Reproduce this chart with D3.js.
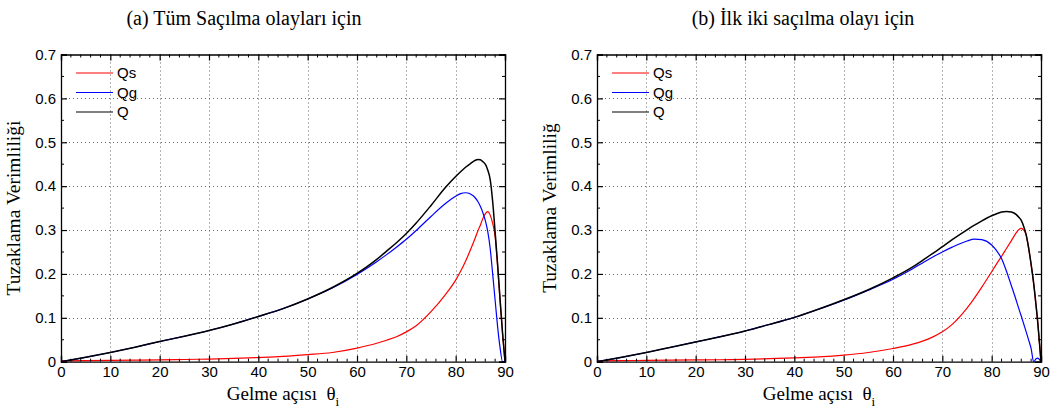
<!DOCTYPE html>
<html><head><meta charset="utf-8">
<script src="https://cdn.jsdelivr.net/npm/d3@7"></script>
<style>body{margin:0;background:#fff}svg{display:block}</style>
</head><body>
<svg id="chart" width="1057" height="414"></svg>
<script>
// ---- data ----
const anglesA = [0,5,10,15,20,25,30,35,40,45,50,55,60,64,66,68,70,72,75,78,80,81,82,83,84,84.5,85,85.5,86,86.5,87,87.5,88,88.5,89,89.5,90];
const qsA = [0.002,0.0025,0.003,0.0035,0.004,0.005,0.006,0.0075,0.0095,0.012,0.016,0.021,0.031,0.042,0.049,0.057,0.068,0.082,0.114,0.154,0.186,0.206,0.229,0.255,0.283,0.298,0.311,0.326,0.337,0.342,0.334,0.315,0.285,0.218,0.140,0.065,0];
const qgA = [0,0.010,0.021,0.033,0.046,0.058,0.071,0.086,0.103,0.121,0.143,0.168,0.199,0.228,0.244,0.261,0.279,0.299,0.331,0.361,0.377,0.383,0.385,0.382,0.373,0.365,0.354,0.340,0.322,0.297,0.258,0.200,0.140,0.080,0.032,0,0];
const qA  = [0,0.010,0.021,0.033,0.046,0.058,0.071,0.086,0.103,0.121,0.143,0.169,0.201,0.233,0.252,0.271,0.292,0.316,0.356,0.398,0.422,0.433,0.443,0.4515,0.459,0.461,0.460,0.456,0.450,0.437,0.415,0.365,0.295,0.222,0.142,0.066,0];

const anglesB = [0,5,10,15,20,25,30,35,40,45,50,55,60,64,66,68,70,72,75,76.5,78,80,81,82,83,84,85,85.5,86,86.5,87,87.5,88,88.5,89,89.3,89.6,90];
const qsB = [0.002,0.0025,0.003,0.0035,0.004,0.0045,0.0055,0.007,0.0085,0.011,0.015,0.021,0.030,0.040,0.047,0.056,0.068,0.085,0.122,0.145,0.170,0.205,0.223,0.240,0.258,0.276,0.294,0.301,0.304,0.300,0.288,0.258,0.221,0.179,0.127,0.094,0.054,0];
const qgB = [0,0.010,0.021,0.033,0.045,0.057,0.070,0.085,0.101,0.120,0.140,0.163,0.188,0.212,0.225,0.238,0.250,0.261,0.275,0.2795,0.278,0.266,0.253,0.235,0.206,0.173,0.139,0.121,0.104,0.086,0.068,0.049,0.030,0,0.0065,0.008,0.006,0];
const qB  = [0,0.010,0.021,0.033,0.045,0.057,0.070,0.085,0.101,0.120,0.141,0.164,0.191,0.216,0.231,0.246,0.262,0.278,0.3005,0.311,0.321,0.3326,0.337,0.341,0.3425,0.341,0.335,0.329,0.322,0.308,0.289,0.259,0.222,0.180,0.128,0.095,0.055,0];

const xTicks = [0,10,20,30,40,50,60,70,80,90];
const yTicks = [0,0.1,0.2,0.3,0.4,0.5,0.6,0.7];
const xMinorStep = 2;
const yMinorStep = 0.05;
const seriesNames = ["Qs","Qg","Q"];
const seriesColors = ["#ff0000","#0000ff","#000000"];
const titles = ["(a) Tüm Saçılma olayları için","(b) İlk iki saçılma olayı için"];
const yLabels = ["Tuzaklama Verimliliği","Tuzaklama Verimliliğ"];
const xLabelMain = "Gelme açısı\u00a0\u00a0θ";
const xLabelSub = "i";

// ---- layout ----
const svg = d3.select("#chart");
const plotTop = 54.5, plotBottom = 361.7;
const panels = [
  {left:61, right:505, angles:anglesA, series:[qsA,qgA,qA], title:titles[0], ylabel:yLabels[0], titleX:244},
  {left:597, right:1041, angles:anglesB, series:[qsB,qgB,qB], title:titles[1], ylabel:yLabels[1], titleX:803}
];
const serif = "'Liberation Serif','Times New Roman',serif";
const sans = "'Liberation Sans',Arial,sans-serif";

panels.forEach(p => {
  const x = d3.scaleLinear().domain([0,90]).range([p.left,p.right]);
  const y = d3.scaleLinear().domain([0,0.7]).range([plotBottom,plotTop]);
  const g = svg.append("g");

  // grid
  const grid = g.append("g").attr("stroke","#666").attr("stroke-width",1).attr("stroke-dasharray","1,3");
  xTicks.slice(1,-1).forEach(t => grid.append("line")
    .attr("x1",Math.round(x(t))+0.5).attr("x2",Math.round(x(t))+0.5).attr("y1",plotTop).attr("y2",plotBottom));
  yTicks.slice(1,-1).forEach(t => grid.append("line")
    .attr("y1",Math.round(y(t))+0.5).attr("y2",Math.round(y(t))+0.5).attr("x1",p.left).attr("x2",p.right));

  // curves
  const line = d3.line().curve(d3.curveMonotoneX);
  p.series.forEach((s,i) => {
    g.append("path")
      .attr("d", line(p.angles.map((a,j) => [x(a), y(s[j])])))
      .attr("fill","none").attr("stroke",seriesColors[i])
      .attr("stroke-width", i===2 ? 1.5 : 1.2);
  });

  // axes with inward ticks
  const xa = d3.axisBottom(x).tickValues(xTicks).tickSize(-6).tickPadding(5).tickFormat(d3.format("d"));
  const ya = d3.axisLeft(y).tickValues(yTicks).tickSize(-6).tickPadding(5)
    .tickFormat(d => d===0 ? "0" : d3.format(".1f")(d));
  const xt = d3.axisTop(x).tickValues(xTicks).tickSize(-6).tickFormat("");
  const yr = d3.axisRight(y).tickValues(yTicks).tickSize(-6).tickFormat("");
  const ax = [
    g.append("g").attr("transform",`translate(0,${plotBottom})`).call(xa),
    g.append("g").attr("transform",`translate(${p.left},0)`).call(ya),
    g.append("g").attr("transform",`translate(0,${plotTop})`).call(xt),
    g.append("g").attr("transform",`translate(${p.right},0)`).call(yr)
  ];
  ax.forEach(a => {
    a.select(".domain").attr("stroke","#000").attr("stroke-width",1.3);
    a.selectAll(".tick line").attr("stroke","#000").attr("stroke-width",1.2);
    a.selectAll("text").attr("font-family",sans).attr("font-size",15).attr("fill","#000");
  });

  // minor ticks
  const minor = g.append("g").attr("stroke","#000").attr("stroke-width",1);
  d3.range(0,90.001,xMinorStep).filter(v => Math.round(v)%10!==0).forEach(v => {
    minor.append("line").attr("x1",x(v)).attr("x2",x(v)).attr("y1",plotBottom).attr("y2",plotBottom-3);
    minor.append("line").attr("x1",x(v)).attr("x2",x(v)).attr("y1",plotTop).attr("y2",plotTop+3);
  });
  d3.range(0,0.7001,yMinorStep).filter((v,i) => i%2===1).forEach(v => {
    minor.append("line").attr("y1",y(v)).attr("y2",y(v)).attr("x1",p.left).attr("x2",p.left+3);
    minor.append("line").attr("y1",y(v)).attr("y2",y(v)).attr("x1",p.right).attr("x2",p.right-3);
  });

  // legend
  const lg = g.append("g").attr("transform",`translate(${p.left+15},73)`);
  seriesNames.forEach((n,i) => {
    lg.append("line").attr("x1",0).attr("x2",37).attr("y1",i*19.5).attr("y2",i*19.5)
      .attr("stroke",seriesColors[i]).attr("stroke-width",1.2);
    lg.append("text").attr("x",41).attr("y",i*19.5).attr("dy","0.35em")
      .attr("font-family",sans).attr("font-size",15).text(n);
  });

  // labels
  g.append("text").attr("x",p.titleX).attr("y",25).attr("text-anchor","middle")
    .attr("font-family",serif).attr("font-size",20).text(p.title);
  const xl = g.append("text").attr("x",(p.left+p.right)/2).attr("y",400).attr("text-anchor","middle")
    .attr("font-family",serif).attr("font-size",19);
  xl.append("tspan").text(xLabelMain);
  xl.append("tspan").attr("dy",6).attr("font-size",13).text(xLabelSub);
  g.append("text").attr("transform",`translate(${p.left-41},${(plotTop+plotBottom)/2}) rotate(-90)`)
    .attr("text-anchor","middle").attr("font-family",serif).attr("font-size",19.5).text(p.ylabel);
});
</script>
</body></html>
